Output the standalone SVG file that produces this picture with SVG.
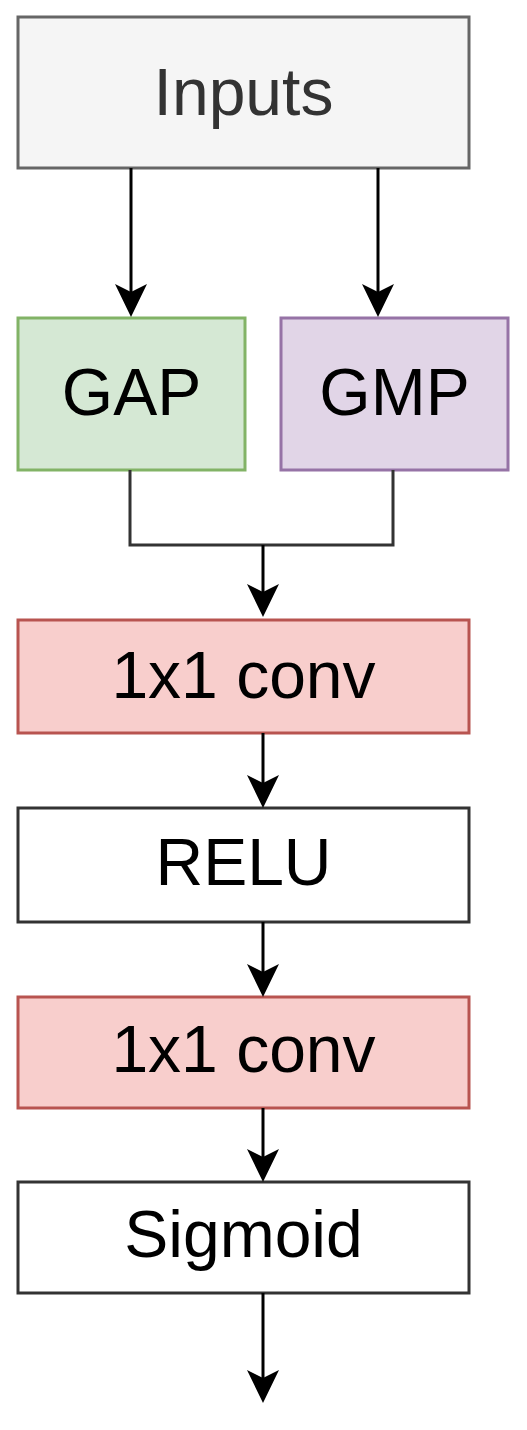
<svg xmlns="http://www.w3.org/2000/svg" width="527" height="1430" viewBox="0 0 527 1430">
<style>
.box{stroke-width:3}
.lbl{font-family:"Liberation Sans",Arial,sans-serif;font-size:66px;text-anchor:middle}
.edge{fill:none;stroke:#000;stroke-width:3}
.edge2{fill:none;stroke:#333;stroke-width:3}
</style>
<defs>
<marker id="arr" markerUnits="userSpaceOnUse" markerWidth="34" markerHeight="34" viewBox="0 0 34 34" refX="8" refY="16" orient="auto">
<path d="M0,0 L33,16 L0,32 L8,16 Z" fill="#000"/>
</marker>
</defs>
<rect width="527" height="1430" fill="#fff"/>
<g id="inputs">
<rect class="box" x="18" y="17" width="451" height="151" fill="#f5f5f5" stroke="#666"/>
<text class="lbl" x="243.5" y="115" fill="#333">Inputs</text>
</g>
<g id="gap">
<rect class="box" x="18" y="318" width="227" height="152" fill="#d5e8d4" stroke="#82b366"/>
<text class="lbl" x="131.5" y="415" fill="#000">GAP</text>
</g>
<g id="gmp">
<rect class="box" x="281" y="318" width="227" height="152" fill="#e1d5e7" stroke="#9673a6"/>
<text class="lbl" x="394.5" y="415" fill="#000">GMP</text>
</g>
<g id="conv1">
<rect class="box" x="18" y="620" width="451" height="113" fill="#f8cecc" stroke="#b85450"/>
<text class="lbl" x="243.5" y="698" fill="#000">1x1 conv</text>
</g>
<g id="relu">
<rect class="box" x="18" y="808" width="451" height="114" fill="#fff" stroke="#333"/>
<text class="lbl" x="243.5" y="885" fill="#000">RELU</text>
</g>
<g id="conv2">
<rect class="box" x="18" y="997" width="451" height="111" fill="#f8cecc" stroke="#b85450"/>
<text class="lbl" x="243.5" y="1072" fill="#000">1x1 conv</text>
</g>
<g id="sigmoid">
<rect class="box" x="18" y="1182" width="451" height="111" fill="#fff" stroke="#333"/>
<text class="lbl" x="243.5" y="1257" fill="#000">Sigmoid</text>
</g>
<g id="connectors">
<path class="edge" d="M131,168 V292" marker-end="url(#arr)"/>
<path class="edge" d="M378,168 V292" marker-end="url(#arr)"/>
<path class="edge2" d="M130,470 V545 H393 V470"/>
<path class="edge" d="M263,545 V592" marker-end="url(#arr)"/>
<path class="edge" d="M263,733 V783" marker-end="url(#arr)"/>
<path class="edge" d="M263,922 V972" marker-end="url(#arr)"/>
<path class="edge" d="M263,1108 V1157" marker-end="url(#arr)"/>
<path class="edge" d="M263,1293 V1378" marker-end="url(#arr)"/>
</g>
</svg>
